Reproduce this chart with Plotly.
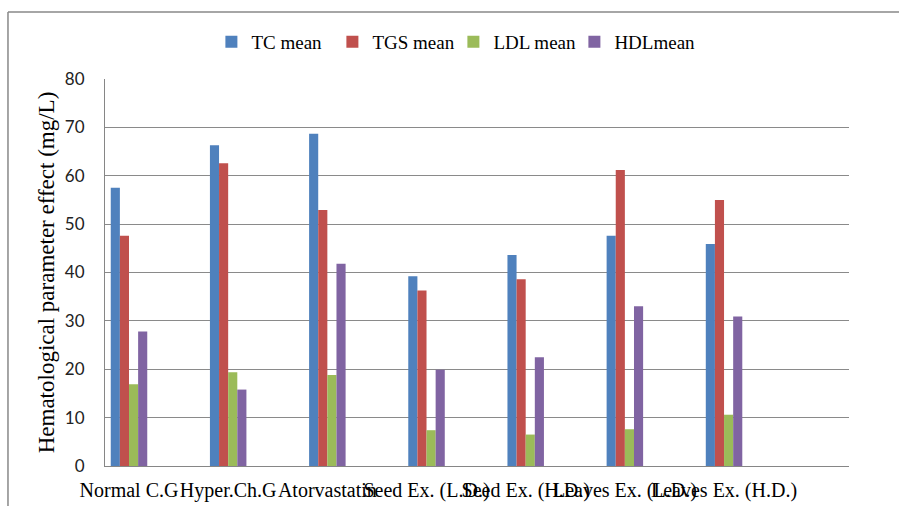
import plotly.graph_objects as go

categories = ["Normal C.G", "Hyper.Ch.G", "Atorvastatin", "Seed Ex. (L.D.)",
              "Seed Ex. (H.D.)", "Leaves Ex. (L.D.)", "Leaves Ex. (H.D.)"]
tc_mean = [57.5, 66.3, 68.7, 39.2, 43.6, 47.6, 45.9]
tgs_mean = [47.6, 62.6, 52.9, 36.3, 38.6, 61.2, 55.0]
ldl_mean = [16.9, 19.4, 18.8, 7.4, 6.5, 7.6, 10.6]
hdl_mean = [27.8, 15.8, 41.8, 19.9, 22.5, 33.0, 30.9]
series_names = ["TC mean", "TGS mean", "LDL mean", "HDLmean"]
series_colors = ["#4F81BD", "#C0504D", "#9BBB59", "#8064A2"]
y_ticks = [0, 10, 20, 30, 40, 50, 60, 70, 80]

serif = "Liberation Serif, Times New Roman, serif"
fig = go.Figure()
for name, vals, col in zip(series_names, [tc_mean, tgs_mean, ldl_mean, hdl_mean], series_colors):
    fig.add_trace(go.Bar(x=categories, y=vals, name=name, marker_color=col,
                         marker_line_width=0))

fig.update_layout(
    width=899, height=506,
    margin=dict(l=105, r=50, t=79, b=40, autoexpand=False),
    paper_bgcolor="white", plot_bgcolor="white",
    barmode="group", bargap=0.632, bargroupgap=0,
    font=dict(family=serif, color="#000000"),
    legend=dict(orientation="h", x=0.143, xanchor="left", y=1.096, yanchor="middle",
                font=dict(family=serif, size=19, color="#000000"),
                entrywidth=76, bgcolor="rgba(0,0,0,0)"),
    xaxis=dict(range=[-0.242, 7.26], tickangle=0, showgrid=False, automargin=False,
               tickfont=dict(family=serif, size=20, color="#000000"),
               showline=True, linecolor="#868686", linewidth=1, ticks="",
               ticklabelstandoff=6),
    yaxis=dict(range=[0, 80], tickvals=y_ticks, showgrid=True, gridcolor="#8a8a8a",
               gridwidth=1, zeroline=False, showline=True, linecolor="#868686",
               linewidth=1, ticks="", ticklabelstandoff=16, automargin=False,
               tickfont=dict(family="Lato, Open Sans, sans-serif", size=17, color="#222222"),
               title=dict(text="Hematological parameter effect (mg/L)", standoff=3,
                          font=dict(family=serif, size=23, color="#000000"))),
    shapes=[
        dict(type="line", xref="paper", yref="paper", x0=-0.1304, x1=1.2, y0=1.173, y1=1.173,
             line=dict(color="#888888", width=1.5)),
        dict(type="line", xref="paper", yref="paper", x0=-0.1304, x1=-0.1304, y0=1.173, y1=-0.2,
             line=dict(color="#888888", width=1.5)),
    ],
)

fig.write_html("out.html", config={"displayModeBar": False},
               post_script="document.body.style.margin='0px';")
